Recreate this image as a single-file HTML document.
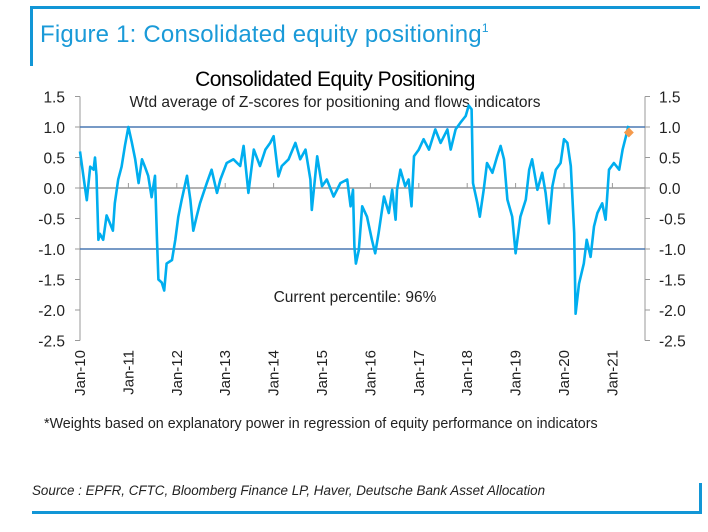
<!DOCTYPE html>
<html><head><meta charset="utf-8"><style>
body{margin:0;background:#fff;width:708px;height:532px;overflow:hidden;font-family:"Liberation Sans",sans-serif;}
svg{position:absolute;left:0;top:0}
</style></head><body>
<svg width="708" height="532">
<rect x="30" y="6" width="670" height="3" fill="#1296d6"/>
<rect x="30" y="6" width="3" height="60" fill="#1296d6"/>
<text x="40" y="42" font-size="24" fill="#1a9ad8" style="letter-spacing:0.2px">Figure 1: Consolidated equity positioning<tspan font-size="12" dy="-10">1</tspan></text>
<text x="335" y="86" font-size="21" text-anchor="middle" fill="#000" style="letter-spacing:-0.5px">Consolidated Equity Positioning</text>
<text x="335" y="107" font-size="15.5" text-anchor="middle" fill="#222">Wtd average of Z-scores for positioning and flows indicators</text>
<g id="plot"></g>
<text x="355" y="302" font-size="15.5" text-anchor="middle" fill="#222">Current percentile: 96%</text>
<text x="44" y="428" font-size="14.3" fill="#222">*Weights based on explanatory power in regression of equity performance on indicators</text>
<text x="32" y="495" font-size="13.4" font-style="italic" fill="#222">Source : EPFR, CFTC, Bloomberg Finance LP, Haver, Deutsche Bank Asset Allocation</text>
<rect x="32" y="511" width="670" height="3" fill="#1296d6"/>
<rect x="699" y="483" width="3" height="31" fill="#1296d6"/>
</svg>
<script>
const dates=[0,.10,.14,.21,.28,.31,.34,.38,.41,.48,.55,.62,.68,.72,.79,.86,.93,1.0,1.07,1.14,1.21,1.28,1.34,1.41,1.48,1.55,1.59,1.62,1.69,1.74,1.79,1.90,1.97,2.03,2.10,2.21,2.28,2.34,2.41,2.48,2.62,2.72,2.83,2.90,3.03,3.17,3.31,3.38,3.48,3.59,3.72,3.83,3.93,4.0,4.10,4.17,4.31,4.45,4.55,4.66,4.76,4.79,4.90,5.0,5.10,5.24,5.38,5.52,5.59,5.64,
5.67,5.70,5.76,5.83,5.93,6.03,6.10,6.17,6.28,6.38,6.45,6.52,6.55,6.62,6.72,6.79,6.85,6.90,7.0,7.10,7.21,7.34,7.45,7.59,7.66,7.76,7.86,7.97,8.03,8.09,8.12,8.21,8.26,8.34,8.41,8.52,8.62,8.69,8.76,8.83,8.93,9.0,9.10,9.21,9.28,9.34,9.45,9.55,9.62,9.69,9.76,9.83,9.93,10.0,10.07,10.14,10.21,10.24,10.31,10.41,10.47,10.55,10.62,10.69,10.79,10.86,10.93,11.03,11.14,11.21,11.28,11.33];
const values=[0.6,0.03,-0.2,0.35,0.3,0.5,0.2,-0.85,-0.75,-0.85,-0.45,-0.58,-0.7,-0.25,0.14,0.35,0.7,1.0,0.75,0.47,0.08,0.47,0.35,0.2,-0.15,0.2,-0.85,-1.5,-1.55,-1.68,-1.24,-1.18,-0.85,-0.47,-0.2,0.2,-0.2,-0.7,-0.47,-0.25,0.08,0.3,-0.08,0.14,0.41,0.47,0.36,0.69,-0.08,0.63,0.36,0.63,0.74,0.85,0.19,0.36,0.47,0.74,0.47,0.63,0.14,-0.36,0.52,0.03,0.14,-0.14,0.08,0.14,-0.3,-0.03,
-0.96,-1.24,-1.02,-0.3,-0.47,-0.85,-1.07,-0.74,-0.14,-0.41,-0.03,-0.52,-0.03,0.3,0.03,0.14,-0.3,0.52,0.63,0.8,0.63,0.96,0.74,0.96,0.63,0.96,1.07,1.18,1.35,1.29,0.08,-0.25,-0.47,-0.03,0.41,0.25,0.52,0.69,0.47,-0.19,-0.47,-1.07,-0.47,-0.19,0.3,0.47,-0.03,0.25,-0.08,-0.58,0.03,0.3,0.41,0.8,0.74,0.36,-0.74,-2.06,-1.57,-1.24,-0.85,-1.13,-0.63,-0.41,-0.25,-0.52,0.3,0.41,0.3,0.63,0.85,1.02];
const currentPoint=[11.34,0.91];
const yTicks=[1.5,1.0,0.5,0.0,-0.5,-1.0,-1.5,-2.0,-2.5];
const xTickLabels=["Jan-10","Jan-11","Jan-12","Jan-13","Jan-14","Jan-15","Jan-16","Jan-17","Jan-18","Jan-19","Jan-20","Jan-21"];
const refLines=[1.0,-1.0];

const NS="http://www.w3.org/2000/svg";
const g=document.getElementById('plot');
const X0=80,XR=645,PXY=48.4;
const x=t=>X0+t*PXY;
const y=v=>188-v*61;
function mk(tag,attrs){const e=document.createElementNS(NS,tag);for(const k in attrs)e.setAttribute(k,attrs[k]);g.appendChild(e);return e;}
let e=mk('line',{x1:X0,x2:X0,y1:y(1.5),y2:y(-2.5),stroke:'#999','stroke-width':1});


e=mk('line',{x1:XR,x2:XR,y1:y(1.5),y2:y(-2.5),stroke:'#999','stroke-width':1});


yTicks.forEach(v=>{
  let t=mk('line',{x1:X0-5,x2:X0,y1:y(v),y2:y(v),stroke:'#999'});
  
  
  t=mk('line',{x1:XR,x2:XR+5,y1:y(v),y2:y(v),stroke:'#999'});
  
  
  const lab=v.toFixed(1);
  let l=mk('text',{x:X0-15,y:y(v)+6,'font-size':15.5,'text-anchor':'end',fill:'#222'});l.textContent=lab;
  
  
  l=mk('text',{x:XR+14,y:y(v)+6,'font-size':15.5,fill:'#222'});l.textContent=lab;
  
  
});
e=mk('line',{x1:X0,x2:XR,y1:y(0),y2:y(0),stroke:'#999','stroke-width':1.5});


refLines.forEach(v=>{
  const r=mk('line',{x1:X0,x2:XR,y1:y(v),y2:y(v),stroke:'#4a78b4','stroke-width':1.5});
  
  
});
xTickLabels.forEach((s,i)=>{
  const t=mk('line',{x1:x(i),x2:x(i),y1:y(0),y2:y(0)-5,stroke:'#999'});
  
  
  const l=mk('text',{x:0,y:0,'font-size':15,'text-anchor':'end',fill:'#222',transform:`translate(${x(i)+5},350) rotate(-90)`});
  l.textContent=s;
  
  
});
const p=mk('path',{d:dates.map((t,i)=>(i?'L':'M')+x(t).toFixed(1)+','+y(values[i]).toFixed(1)).join(''),fill:'none',stroke:'#00aeef','stroke-width':2.6,'stroke-linejoin':'round'});


const cx=x(currentPoint[0]),cy=y(currentPoint[1]);
const d=mk('rect',{x:cx-3.5,y:cy-3.5,width:7,height:7,fill:'#f59a4c',transform:`rotate(45 ${cx} ${cy})`});


</script>
</body></html>
